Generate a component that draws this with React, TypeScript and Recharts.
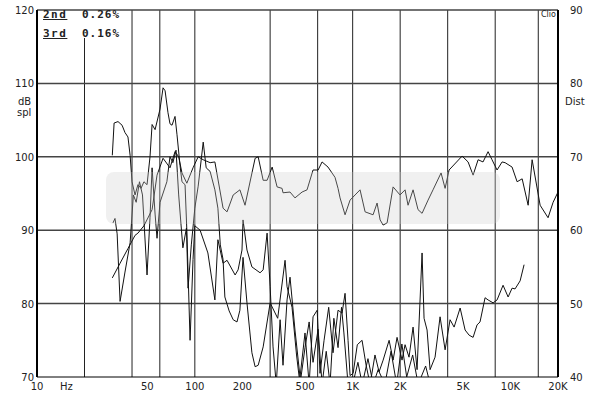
import { LineChart, Line, XAxis, YAxis, CartesianGrid } from 'recharts';

// frequency ticks and grid
const xTicks = [10, 50, 100, 200, 500, 1000, 2000, 5000, 10000, 20000];
const xGrid = [
  20, 30, 40, 50, 60, 70, 80, 90, 100, 200, 300, 400, 500, 600, 700, 800, 900,
  1000, 2000, 3000, 4000, 5000, 6000, 7000, 8000, 9000, 10000, 15000,
];
const splTicks = [70, 80, 90, 100, 110, 120];
const splGrid = [80, 90, 100, 110, 120];
const distTicks = [40, 50, 60, 70, 80, 90];
const splMinor = [72, 74, 76, 78, 82, 84, 86, 88, 92, 94, 96, 98, 102, 104, 106, 108, 112, 114, 116, 118];
const distMinor = [
  41, 42, 43, 44, 45, 46, 47, 48, 49, 51, 52, 53, 54, 55, 56, 57, 58, 59, 61, 62, 63, 64, 65, 66, 67, 68, 69,
  71, 72, 73, 74, 75, 76, 77, 78, 79, 81, 82, 83, 84, 85, 86, 87, 88, 89,
];

// fundamental
const fundFreq = [
  30, 33.6, 37.7, 41.8, 43.6, 47.6, 53.6, 57.6, 62.9, 69.6, 74.9, 79, 82.9, 89, 97.4, 105, 113, 125, 134, 151,
  160, 175, 193, 208, 241, 252, 271, 287, 309, 332, 357, 362, 401, 431, 478, 514, 561, 604, 640, 698, 773, 808,
  832, 895, 963, 1036, 1114, 1199, 1347, 1428, 1493, 1560, 1653, 1804, 1996, 2148, 2244, 2414, 2595, 2753, 3005,
  3230, 3632, 3852, 4083, 4936, 5388, 5796, 6235, 6699, 7211, 7638, 8222, 8847, 9247, 10233, 11015, 11858, 12940,
  13710, 15410, 17300, 18620, 20000,
];
const fundDb = [
  83.5, 85.5, 87.5, 89.3, 89.6, 90.6, 92.8, 97.5, 99.8, 98.5, 100.7, 100, 97.8, 96.4, 98.5, 100, 99.6, 99.2, 99.3,
  93, 92.5, 94.8, 95.5, 93.4, 99.8, 100, 96.8, 96.8, 98.6, 95.9, 95.7, 95.1, 95.2, 94.4, 95.2, 95.5, 98.2, 98.2,
  99.3, 98.6, 97.2, 95.7, 94.4, 92.1, 94.1, 94.8, 95.5, 92.5, 92.1, 93.7, 91.4, 90.7, 91, 95.9, 94.8, 95.5, 93.4,
  95.5, 92.8, 92.3, 94.1, 95.5, 97.8, 95.7, 98.2, 100.1, 99.3, 97.5, 99.6, 99.3, 100.7, 99.6, 98.2, 99.3, 99.2,
  98.6, 96.6, 97, 93.4, 99.6, 93.4, 91.7, 93.8, 95.2,
];

// 2nd harmonic
const h2Freq = [
  30, 30.8, 32.6, 34.6, 36.1, 37.7, 38.9, 40, 41.8, 43.6, 45.6, 47.6, 49.8, 52, 53.6, 56, 60.2, 62.9, 64.8, 67.6,
  69.6, 71.7, 74.9, 77.1, 80.6, 82.9, 86.7, 89, 93.3, 97.4, 100, 108, 121, 134, 140, 151, 160, 180, 188, 199, 202,
  214, 230, 259, 271, 287, 300, 313, 328, 347, 362, 384, 401, 431, 464, 499, 530, 561, 596, 621, 659, 705, 751,
  808, 857, 895, 935, 963, 1007, 1070, 1147, 1217, 1290, 1385, 1470, 1560, 1702, 1804, 1911, 2055, 2148, 2276,
  2414, 2559, 2753, 2834, 2961, 3094, 3327, 3580, 3852, 4142, 4394, 4797, 5157, 5467, 5796, 6140, 6412, 6902,
  7211, 7762, 8222, 8974, 9660, 10233, 10690, 11508, 12195,
];
const h2Db = [
  100.2, 104.6, 104.8, 104.3, 103.3, 102.7, 100.2, 96.6, 94.8, 96.2, 95.7, 96.6, 96.2, 100, 104.4, 103.7, 106.5,
  109.4, 109, 106, 104.5, 104.3, 105.5, 103, 98.8, 96.6, 96.2, 90, 75, 86, 90.6, 90, 86.9, 80.5, 88.7, 85.5, 85.9,
  83.9, 84.6, 87.3, 91.4, 87.3, 85, 84.2, 84.6, 89.6, 82.3, 74.1, 69, 77.8, 71.6, 80.5, 83.6, 76.4, 70, 76, 69,
  78.2, 79.1, 70.5, 75, 79.5, 73.3, 79.1, 78.7, 81.4, 75, 70.2, 70.5, 74.4, 75, 71.6, 69, 73, 70.7, 72.3, 75, 72.3,
  75.4, 72.3, 74.4, 72.7, 76.8, 71, 86.9, 78, 76.4, 71, 72.7, 78.2, 73.7, 77.8, 76.8, 79.4, 76.4, 75.7, 75.4, 77.1,
  77.5, 80.8, 80.5, 80.1, 80.5, 82.5, 80.9, 82.1, 82, 83.1, 85.3,
];

// 3rd harmonic
const h3Freq = [
  30.3, 31.2, 32.2, 33.6, 36.1, 38.9, 40.8, 42.5, 44.6, 46.6, 49.8, 52, 53.6, 56, 57.6, 60.2, 66.5, 69.6, 72.6,
  76, 79, 81.8, 84, 88.5, 90.6, 95, 100, 105, 113, 118, 125, 134, 140, 145, 151, 155, 165, 175, 185, 193, 202, 214,
  230, 241, 252, 271, 300, 335, 373, 384, 413, 441, 464, 499, 530, 561, 604, 640, 680, 719, 760, 808, 850, 880,
  935, 1000, 1080, 1150, 1250, 1350, 1450, 1600, 1750, 1900, 2050, 2200, 2400, 2600, 2900, 3100,
];
const h3Db = [
  91, 91.6, 89.5, 80.3, 84.3, 88.3, 94.8, 93.8, 96.6, 94.8, 83.9, 91.7, 98.5, 92.2, 88.9, 93.8, 96.6, 100, 99.2,
  100.9, 94.8, 90.7, 87.6, 90.3, 82.1, 88, 93, 96, 102, 98.5, 98, 95.5, 93, 88, 86, 80.9, 79, 77.8, 77.5, 79.1,
  86.3, 80.1, 73.3, 71.4, 71.6, 74.1, 80.1, 78, 85.9, 82.3, 79.5, 73, 69, 74, 77.5, 72, 76.5, 69, 73.5, 69, 78, 74,
  79.5, 76, 69, 69, 72, 69, 72.5, 69, 71, 69, 73.5, 69, 74.5, 70, 73, 69, 71.5, 69,
];

const fundData = fundFreq.map((f, i) => ({ f, db: fundDb[i] }));
const h2Data = h2Freq.map((f, i) => ({ f, db: h2Db[i] }));
const h3Data = h3Freq.map((f, i) => ({ f, db: h3Db[i] }));

const FONT = '"DejaVu Sans", Verdana, sans-serif';
const MONO = '"DejaVu Sans Mono", monospace';
const INK = '#111';

const fmtHz = (v: number) => (v >= 1000 ? `${v / 1000}K` : `${v}`);

function FreqTick({ x, y, payload }: any) {
  return (
    <text x={x} y={y + 13} textAnchor="middle" fontSize={10} fontFamily={FONT} fill="#222">
      {fmtHz(payload.value)}
    </text>
  );
}

function LeftTick({ x, y, payload }: any) {
  return (
    <text x={x} y={y + 4} textAnchor="end" fontSize={10} fontFamily={FONT} fill="#222">
      {payload.value}
    </text>
  );
}

function RightTick({ x, y, payload }: any) {
  return (
    <text x={x} y={y + 4} textAnchor="start" fontSize={10} fontFamily={FONT} fill="#222">
      {payload.value}
    </text>
  );
}

const abs = (left: number, top: number, extra: React.CSSProperties = {}): React.CSSProperties => ({
  position: 'absolute',
  left,
  top,
  lineHeight: '11px',
  whiteSpace: 'nowrap',
  ...extra,
});

export default function App() {
  return (
    <div
      style={{
        position: 'absolute',
        left: 0,
        top: 0,
        width: 600,
        height: 396,
        background: '#fff',
        overflow: 'hidden',
      }}
    >
      <LineChart width={600} height={396} margin={{ top: 10, right: 0, bottom: 0, left: 0 }}>
        <CartesianGrid horizontal={false} verticalValues={xGrid} stroke="#222" strokeWidth={1} />
        <CartesianGrid vertical={false} horizontalValues={splGrid} stroke="#444" strokeWidth={1.5} />
        <XAxis
          dataKey="f"
          type="number"
          scale="log"
          domain={[10, 20000]}
          allowDataOverflow
          ticks={xTicks}
          tick={<FreqTick />}
          tickLine={false}
          tickSize={0}
          tickMargin={0}
          height={19}
          axisLine={{ stroke: '#000', strokeWidth: 1 }}
        />
        <YAxis
          type="number"
          domain={[70, 120]}
          allowDataOverflow
          ticks={splTicks}
          tick={<LeftTick />}
          tickLine={false}
          tickSize={0}
          tickMargin={3}
          width={37}
          axisLine={{ stroke: '#000', strokeWidth: 2 }}
        />
        <YAxis
          yAxisId="dist"
          orientation="right"
          type="number"
          domain={[40, 90]}
          allowDataOverflow
          ticks={distTicks}
          tick={<RightTick />}
          tickLine={false}
          tickSize={0}
          tickMargin={12}
          width={42}
          axisLine={{ stroke: '#000', strokeWidth: 2 }}
        />
        <YAxis
          yAxisId="splMinor"
          orientation="left"
          mirror
          type="number"
          domain={[70, 120]}
          allowDataOverflow
          ticks={splMinor}
          tick={false}
          tickSize={4}
          axisLine={false}
          stroke="#000"
          width={10}
        />
        <YAxis
          yAxisId="distMinor"
          orientation="right"
          mirror
          type="number"
          domain={[40, 90]}
          allowDataOverflow
          ticks={distMinor}
          tick={false}
          tickSize={4}
          axisLine={false}
          stroke="#000"
          width={10}
        />
        {/* hidden series so the extra axes are drawn */}
        <Line yAxisId="dist" data={fundData} dataKey="db" stroke="none" dot={false} activeDot={false} isAnimationActive={false} />
        <Line yAxisId="splMinor" data={fundData} dataKey="db" stroke="none" dot={false} activeDot={false} isAnimationActive={false} />
        <Line yAxisId="distMinor" data={fundData} dataKey="db" stroke="none" dot={false} activeDot={false} isAnimationActive={false} />

        <Line data={fundData} dataKey="db" type="linear" stroke={INK} strokeWidth={1} dot={false} isAnimationActive={false} />
        <Line data={h2Data} dataKey="db" type="linear" stroke={INK} strokeWidth={1} dot={false} isAnimationActive={false} />
        <Line data={h3Data} dataKey="db" type="linear" stroke={INK} strokeWidth={1} dot={false} isAnimationActive={false} />
      </LineChart>

      {/* watermark band */}
      <div
        style={{
          position: 'absolute',
          left: 106,
          top: 172,
          width: 394,
          height: 52,
          borderRadius: 8,
          background: 'rgba(205,205,205,0.3)',
        }}
      />

      {/* legend box */}
      <div style={{ position: 'absolute', left: 39, top: 11, width: 84, height: 27, background: '#fff' }} />
      <span style={abs(43, 8, { font: `bold 11px ${MONO}`, letterSpacing: 1.5, color: '#222', textDecoration: 'underline' })}>2nd</span>
      <span style={abs(82, 8, { font: `bold 11px ${MONO}`, letterSpacing: 1, color: '#222' })}>0.26%</span>
      <span style={abs(43, 27, { font: `bold 11px ${MONO}`, letterSpacing: 1.5, color: '#222', textDecoration: 'underline' })}>3rd</span>
      <span style={abs(82, 27, { font: `bold 11px ${MONO}`, letterSpacing: 1, color: '#222' })}>0.16%</span>

      <span style={abs(541, 10, { font: `8px ${FONT}`, color: '#222' })}>Clio</span>
      <span style={abs(18, 96, { font: `10px ${FONT}`, color: '#222' })}>dB</span>
      <span style={abs(17, 107, { font: `10px ${FONT}`, color: '#222' })}>spl</span>
      <span style={abs(565, 96, { font: `10px ${FONT}`, color: '#222' })}>Dist</span>
      <span style={abs(60, 381, { font: `10px ${FONT}`, color: '#222' })}>Hz</span>
    </div>
  );
}
